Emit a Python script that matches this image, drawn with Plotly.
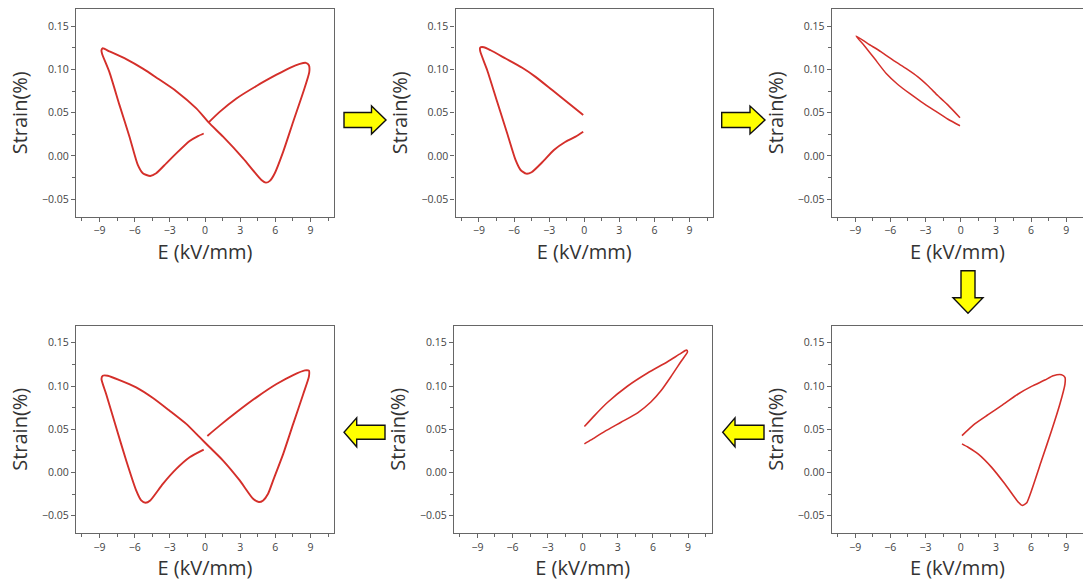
import plotly.graph_objects as go

# Strain (%) vs. electric field E (kV/mm), six stages of the poling sequence
E1 = [0.31, 1.25, 2.68, 4.39, 6.10, 7.24, 8.09, 8.60, 8.86, 8.89, 8.38, 7.52, 6.67, 5.95, 5.53, 5.19, 4.81,
      3.25, 1.54, 0.31, -0.74, -2.45, -4.16, -5.30, -6.72, -8.15, -8.72, -8.83, -8.77,
      -8.15, -7.29, -6.44, -5.73, -5.30, -4.67, -4.16, -3.30, -2.45, -1.31, -0.60, -0.11]
S1 = [0.0388, 0.051, 0.0665, 0.081, 0.094, 0.102, 0.1065, 0.1077, 0.105, 0.097, 0.074, 0.0396, 0.005, -0.020, -0.0288, -0.0308, -0.0277,
      -0.0027, 0.0223, 0.0388, 0.055, 0.075, 0.0908, 0.101, 0.112, 0.121, 0.1246, 0.1223, 0.118,
      0.097, 0.0588, 0.0223, -0.0104, -0.020, -0.0231, -0.020, -0.0085, 0.003, 0.0173, 0.023, 0.026]

E2 = [-0.09, -1.31, -2.74, -4.16, -5.30, -6.72, -8.00, -8.58, -8.89, -8.89,
      -8.29, -7.44, -6.58, -5.87, -5.44, -4.96, -4.50, -3.59, -2.59, -1.60, -0.74, -0.09]
S2 = [0.0473, 0.0608, 0.0762, 0.0915, 0.102, 0.1127, 0.1223, 0.1258, 0.1254, 0.1212,
      0.0992, 0.0627, 0.026, -0.0046, -0.0162, -0.0204, -0.0188, -0.0073, 0.0069, 0.0165, 0.0223, 0.028]

E3 = [-0.06, -1.08, -1.94, -2.79, -3.65, -4.64, -5.64, -6.78, -7.92, -8.92,
      -8.20, -7.35, -6.35, -5.36, -4.36, -3.36, -2.22, -1.08, -0.06]
S3 = [0.0442, 0.0588, 0.0696, 0.0812, 0.0915, 0.101, 0.1096, 0.1204, 0.130, 0.1388,
      0.1273, 0.1127, 0.0954, 0.0827, 0.0723, 0.0627, 0.0525, 0.0425, 0.035]

E4 = [0.20, 1.25, 2.68, 4.39, 6.10, 7.52, 8.52, 8.86, 8.86, 8.38, 7.52, 6.67, 5.81, 5.38, 4.96, 4.59, 4.10,
      2.96, 1.54, 0.40, -0.46, -1.60, -3.02, -4.44, -5.87, -7.29, -8.29, -8.72, -8.83,
      -8.43, -7.58, -6.72, -5.87, -5.44, -5.07, -4.67, -3.59, -2.45, -1.31, -0.11]
S4 = [0.0423, 0.0542, 0.0696, 0.0869, 0.1023, 0.1127, 0.1181, 0.1177, 0.1108, 0.0908, 0.0562, 0.0215, -0.0092, -0.0246, -0.0323, -0.0342, -0.0304,
      -0.0092, 0.0138, 0.0292, 0.0408, 0.0562, 0.0715, 0.0862, 0.0985, 0.1069, 0.1119, 0.1119, 0.1081,
      0.0908, 0.0523, 0.0138, -0.0208, -0.0323, -0.035, -0.0323, -0.0131, 0.0042, 0.0177, 0.0265]

E5 = [0.14, 1.00, 2.13, 3.84, 5.54, 7.24, 8.38, 8.86, 8.95,
      8.38, 7.53, 6.68, 5.82, 4.69, 3.27, 1.85, 0.71, 0.14]
S5 = [0.0531, 0.0658, 0.0812, 0.1000, 0.1150, 0.1281, 0.1377, 0.1415, 0.1396,
      0.1281, 0.1108, 0.0945, 0.0815, 0.0690, 0.0581, 0.0473, 0.0377, 0.0331]

E6 = [0.11, 1.20, 2.34, 3.48, 4.90, 6.04, 7.18, 7.89, 8.60, 8.89, 8.89,
      8.46, 7.75, 6.89, 6.04, 5.61, 5.24, 4.90, 3.76, 2.62, 1.48, 0.63, 0.11]
S6 = [0.0427, 0.0562, 0.0669, 0.0773, 0.0908, 0.0996, 0.1069, 0.1119, 0.1131, 0.110, 0.1023,
      0.0792, 0.0485, 0.0138, -0.0208, -0.0354, -0.0381, -0.0342, -0.0131, 0.0062, 0.0215, 0.0292, 0.0331]

E_TICKS = [-9, -6, -3, 0, 3, 6, 9]
S_TICKS = [-0.05, 0.00, 0.05, 0.10, 0.15]

W, H = 1083, 586
LINE_RED = "#d42f2a"
FRAME = "#666666"
FONT = "Open Sans"

# panel boxes in pixels: (left, right, top, bottom)
boxes = [
    (76, 334, 9, 216.5),
    (455.5, 713, 9, 216.5),
    (831.7, 1083, 9, 216.5),
    (76, 334, 325.5, 533),
    (454, 711.5, 325.5, 533),
    (831.7, 1083, 325.5, 533),
]
series = [(E1, S1), (E2, S2), (E3, S3), (E4, S4), (E5, S5), (E6, S6)]
widths = [1.9, 1.9, 1.5, 1.9, 1.6, 1.6]

fig = go.Figure()
layout = {}
for i, ((l, r, t, b), (ex, sy), lw) in enumerate(zip(boxes, series, widths), start=1):
    xa = "x" if i == 1 else f"x{i}"
    ya = "y" if i == 1 else f"y{i}"
    fig.add_trace(go.Scatter(
        x=ex, y=sy, xaxis=xa, yaxis=ya, mode="lines",
        line=dict(color=LINE_RED, width=lw, shape="spline", smoothing=0.6),
        showlegend=False, hoverinfo="skip",
    ))
    clipped = r >= W
    xr = [-11, -11 + (r - l) / ((334 - 76) / 22)] if clipped else [-11, 11]
    layout["xaxis" if i == 1 else f"xaxis{i}"] = dict(
        domain=[l / W, min(r / W, 1.0)], anchor=ya, range=xr,
        tickvals=E_TICKS, ticks="outside", ticklen=4, tickwidth=1, tickcolor=FRAME,
        minor=dict(dtick=1.5, tick0=0, ticks="outside", ticklen=3, tickcolor=FRAME, tickwidth=1),
        showline=True, linecolor=FRAME, linewidth=1.3, mirror=True,
        showgrid=False, zeroline=False,
        tickfont=dict(family=FONT, size=10.5, color="#444444"),
        title=dict(text="E (kV/mm)", font=dict(family=FONT, size=20, color="#333333"), standoff=8),
    )
    layout["yaxis" if i == 1 else f"yaxis{i}"] = dict(
        domain=[1 - b / H, 1 - t / H], anchor=xa, range=[-0.07, 0.17],
        tickvals=S_TICKS, tickformat=".2f", ticks="outside", ticklen=4, tickwidth=1, tickcolor=FRAME,
        minor=dict(dtick=0.025, tick0=0, ticks="outside", ticklen=3, tickcolor=FRAME, tickwidth=1),
        showline=True, linecolor=FRAME, linewidth=1.3, mirror=not clipped,
        showgrid=False, zeroline=False,
        tickfont=dict(family=FONT, size=10.5, color="#444444"),
        title=dict(text="Strain(%)", font=dict(family=FONT, size=20, color="#333333"), standoff=8),
    )


def to_paper(pts):
    return "M " + " L ".join(f"{x / W:.5f},{1 - y / H:.5f}" for x, y in pts) + " Z"


def h_arrow(x_tail, x_neck, x_tip, yc, half_shaft, half_head):
    return [(x_tail, yc - half_shaft), (x_neck, yc - half_shaft), (x_neck, yc - half_head),
            (x_tip, yc), (x_neck, yc + half_head), (x_neck, yc + half_shaft), (x_tail, yc + half_shaft)]


def v_arrow(y_tail, y_neck, y_tip, xc, half_shaft, half_head):
    return [(xc - half_shaft, y_tail), (xc - half_shaft, y_neck), (xc - half_head, y_neck),
            (xc, y_tip), (xc + half_head, y_neck), (xc + half_shaft, y_neck), (xc + half_shaft, y_tail)]


arrows = [
    h_arrow(344, 371.5, 386, 120, 7.5, 14),
    h_arrow(721.7, 750, 765, 120, 7.5, 14),
    v_arrow(270.7, 297.7, 313.3, 968, 7, 15),
    h_arrow(764, 735, 722.7, 432.3, 7, 14.5),
    h_arrow(385, 356.7, 344, 432.3, 7, 14.5),
]
shapes = [dict(type="path", xref="paper", yref="paper", path=to_paper(a),
               fillcolor="#ffff00", line=dict(color="#111111", width=1.4), layer="above")
          for a in arrows]

fig.update_layout(
    width=W, height=H, margin=dict(l=0, r=0, t=0, b=0),
    paper_bgcolor="white", plot_bgcolor="white",
    shapes=shapes, **layout,
)
fig.write_html("out.html")
